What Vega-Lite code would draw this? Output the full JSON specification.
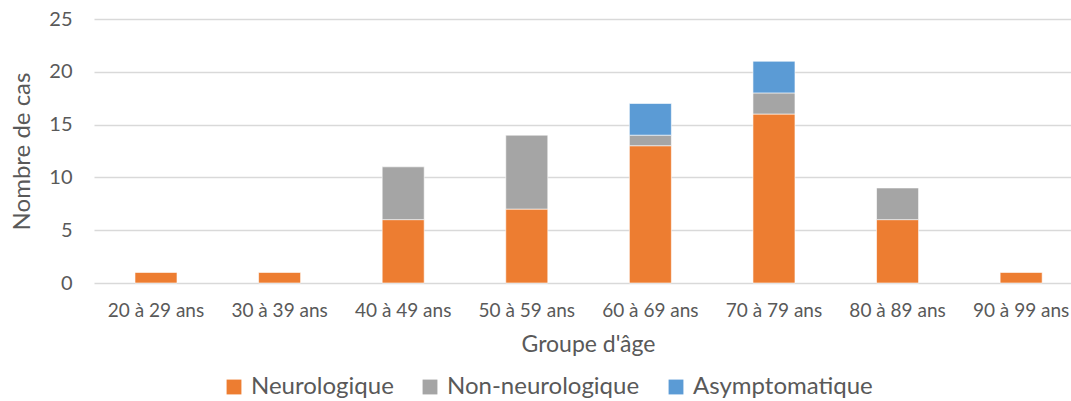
{
  "$schema": "https://vega.github.io/schema/vega-lite/v6.json",
  "width": 977,
  "height": 264,
  "autosize": {"type": "none"},
  "padding": {"left": 94, "top": 19, "right": 0, "bottom": 118},
  "background": "white",
  "config": {
    "font": "Lato",
    "view": {"stroke": null},
    "axis": {"labelColor": "#595959", "titleColor": "#595959", "titleFontWeight": "normal"}
  },
  "data": {
    "values": [
      {"groupe": "20 à 29 ans", "type": "Neurologique", "rang": 1, "cas": 1},
      {"groupe": "30 à 39 ans", "type": "Neurologique", "rang": 1, "cas": 1},
      {"groupe": "40 à 49 ans", "type": "Neurologique", "rang": 1, "cas": 6},
      {"groupe": "40 à 49 ans", "type": "Non-neurologique", "rang": 2, "cas": 5},
      {"groupe": "50 à 59 ans", "type": "Neurologique", "rang": 1, "cas": 7},
      {"groupe": "50 à 59 ans", "type": "Non-neurologique", "rang": 2, "cas": 7},
      {"groupe": "60 à 69 ans", "type": "Neurologique", "rang": 1, "cas": 13},
      {"groupe": "60 à 69 ans", "type": "Non-neurologique", "rang": 2, "cas": 1},
      {"groupe": "60 à 69 ans", "type": "Asymptomatique", "rang": 3, "cas": 3},
      {"groupe": "70 à 79 ans", "type": "Neurologique", "rang": 1, "cas": 16},
      {"groupe": "70 à 79 ans", "type": "Non-neurologique", "rang": 2, "cas": 2},
      {"groupe": "70 à 79 ans", "type": "Asymptomatique", "rang": 3, "cas": 3},
      {"groupe": "80 à 89 ans", "type": "Neurologique", "rang": 1, "cas": 6},
      {"groupe": "80 à 89 ans", "type": "Non-neurologique", "rang": 2, "cas": 3},
      {"groupe": "90 à 99 ans", "type": "Neurologique", "rang": 1, "cas": 1}
    ]
  },
  "mark": {"type": "bar", "stroke": "white", "strokeWidth": 0.6},
  "encoding": {
    "x": {
      "field": "groupe",
      "type": "nominal",
      "sort": null,
      "title": "Groupe d'âge",
      "scale": {"paddingInner": 0.66, "paddingOuter": 0.2825, "align": 0.587},
      "axis": {
        "labelAngle": 0,
        "labelFontSize": 19,
        "labelPadding": 18,
        "titleFontSize": 23,
        "titlePadding": 13,
        "titleX": 494,
        "domain": false,
        "ticks": false,
        "grid": false
      }
    },
    "y": {
      "field": "cas",
      "type": "quantitative",
      "aggregate": "sum",
      "title": "Nombre de cas",
      "scale": {"domain": [0, 25]},
      "axis": {
        "values": [0, 5, 10, 15, 20, 25],
        "labelFontSize": 20,
        "labelPadding": 22,
        "titleFontSize": 24,
        "titlePadding": 14,
        "domain": false,
        "ticks": false,
        "gridColor": "#D9D9D9",
        "gridWidth": 1.3
      }
    },
    "order": {"field": "rang", "type": "quantitative", "sort": "ascending"},
    "color": {
      "field": "type",
      "type": "nominal",
      "sort": ["Neurologique", "Non-neurologique", "Asymptomatique"],
      "scale": {
        "domain": ["Neurologique", "Non-neurologique", "Asymptomatique"],
        "range": ["#ED7D31", "#A5A5A5", "#5B9BD5"]
      },
      "legend": {
        "title": null,
        "orient": "none",
        "direction": "horizontal",
        "legendX": 128,
        "legendY": 356,
        "symbolType": "square",
        "symbolSize": 220,
        "symbolStrokeWidth": 0,
        "labelFontSize": 24,
        "labelLimit": 400,
        "labelColor": "#595959",
        "columnPadding": 24,
        "labelOffset": 5
      }
    }
  }
}
